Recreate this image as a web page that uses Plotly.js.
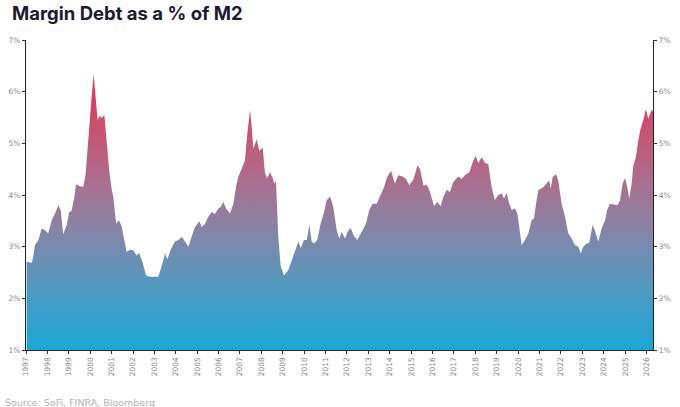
<!DOCTYPE html>
<html>
<head>
<meta charset="utf-8">
<script src="https://cdn.plot.ly/plotly-3.0.1.min.js"></script>
<style>
  html, body { margin: 0; padding: 0; background: #ffffff; }
  #chart { width: 680px; height: 407px; }
</style>
</head>
<body>
<div id="chart"></div>
<script>
// Decimal year of each reading
const years = [
  1997.03, 1997.27, 1997.34, 1997.42, 1997.58, 1997.73, 1997.89, 1998.04, 1998.20, 1998.36,
  1998.51, 1998.62, 1998.74, 1998.90, 1999.02, 1999.13, 1999.26, 1999.34, 1999.52, 1999.68,
  1999.79, 1999.91, 2000.04, 2000.16, 2000.27, 2000.35, 2000.43, 2000.54, 2000.66, 2000.77,
  2000.89, 2001.00, 2001.08, 2001.21, 2001.35, 2001.47, 2001.58, 2001.70, 2001.86, 2002.01,
  2002.17, 2002.29, 2002.45, 2002.61, 2002.79, 2003.18, 2003.34, 2003.50, 2003.60, 2003.76,
  2003.96, 2004.12, 2004.28, 2004.43, 2004.59, 2004.74, 2004.90, 2005.10, 2005.21, 2005.36,
  2005.52, 2005.68, 2005.83, 2005.99, 2006.10, 2006.22, 2006.35, 2006.53, 2006.69, 2006.81,
  2006.92, 2007.08, 2007.23, 2007.34, 2007.47, 2007.55, 2007.62, 2007.78, 2007.90, 2008.06,
  2008.17, 2008.28, 2008.40, 2008.53, 2008.60, 2008.68, 2008.79, 2008.90, 2009.06, 2009.26,
  2009.49, 2009.73, 2009.84, 2009.99, 2010.12, 2010.24, 2010.35, 2010.47, 2010.61, 2010.77,
  2010.93, 2011.05, 2011.21, 2011.36, 2011.52, 2011.64, 2011.75, 2011.91, 2012.03, 2012.17,
  2012.33, 2012.48, 2012.69, 2012.89, 2013.04, 2013.20, 2013.39, 2013.54, 2013.73, 2013.88,
  2014.06, 2014.24, 2014.40, 2014.60, 2014.76, 2014.91, 2015.10, 2015.29, 2015.41, 2015.57,
  2015.75, 2015.88, 2016.07, 2016.22, 2016.38, 2016.50, 2016.66, 2016.81, 2016.97, 2017.20,
  2017.36, 2017.51, 2017.72, 2017.87, 2018.01, 2018.14, 2018.29, 2018.45, 2018.60, 2018.76,
  2018.91, 2019.07, 2019.23, 2019.34, 2019.46, 2019.58, 2019.70, 2019.85, 2019.96, 2020.05,
  2020.16, 2020.32, 2020.47, 2020.63, 2020.74, 2020.86, 2020.94, 2021.17, 2021.33, 2021.45,
  2021.52, 2021.61, 2021.77, 2021.87, 2022.03, 2022.19, 2022.34, 2022.50, 2022.65, 2022.81,
  2022.92, 2023.04, 2023.20, 2023.32, 2023.48, 2023.58, 2023.74, 2023.90, 2024.06, 2024.16,
  2024.29, 2024.45, 2024.64, 2024.76, 2024.88, 2024.99, 2025.10, 2025.19, 2025.30, 2025.38,
  2025.50, 2025.61, 2025.72, 2025.84, 2025.97, 2026.08, 2026.16, 2026.24, 2026.30
];

// Margin debt as % of M2
const marginPct = [
  2.71, 2.69, 2.81, 3.03, 3.13, 3.35, 3.32, 3.26, 3.51, 3.64,
  3.80, 3.71, 3.24, 3.42, 3.67, 3.69, 3.96, 4.21, 4.17, 4.16,
  4.41, 5.12, 5.76, 6.33, 5.76, 5.44, 5.53, 5.49, 5.55, 4.99,
  4.47, 4.12, 3.96, 3.45, 3.51, 3.39, 3.13, 2.90, 2.94, 2.93,
  2.83, 2.88, 2.69, 2.44, 2.42, 2.42, 2.62, 2.87, 2.75, 2.94,
  3.10, 3.13, 3.19, 3.10, 3.00, 3.19, 3.38, 3.49, 3.38, 3.44,
  3.58, 3.67, 3.63, 3.74, 3.77, 3.87, 3.74, 3.64, 3.83, 4.15,
  4.35, 4.51, 4.67, 5.18, 5.64, 5.31, 4.89, 5.08, 4.85, 4.92,
  4.41, 4.33, 4.44, 4.33, 4.22, 4.27, 3.19, 2.62, 2.44, 2.55,
  2.81, 3.10, 2.97, 3.13, 3.13, 3.42, 3.10, 3.06, 3.13, 3.45,
  3.67, 3.90, 3.97, 3.77, 3.32, 3.16, 3.29, 3.16, 3.29, 3.36,
  3.20, 3.13, 3.29, 3.45, 3.71, 3.83, 3.83, 3.96, 4.15, 4.35,
  4.47, 4.22, 4.38, 4.36, 4.31, 4.19, 4.30, 4.57, 4.51, 4.19,
  4.19, 4.06, 3.78, 3.87, 3.78, 3.96, 4.10, 4.06, 4.25, 4.36,
  4.31, 4.38, 4.44, 4.63, 4.76, 4.62, 4.73, 4.62, 4.60, 4.15,
  3.90, 4.00, 4.03, 3.93, 4.04, 3.83, 3.71, 3.74, 3.64, 3.38,
  3.03, 3.13, 3.25, 3.51, 3.55, 3.90, 4.09, 4.15, 4.22, 4.28,
  4.12, 4.35, 4.40, 4.28, 3.83, 3.58, 3.26, 3.16, 3.03, 3.00,
  2.87, 3.00, 3.06, 3.07, 3.42, 3.32, 3.10, 3.35, 3.51, 3.71,
  3.83, 3.82, 3.80, 3.90, 4.22, 4.33, 4.15, 3.93, 4.22, 4.57,
  4.73, 5.05, 5.28, 5.44, 5.66, 5.47, 5.55, 5.66, 5.60
];

const yearTicks = [];
for (let y = 1997; y <= 2026; y++) yearTicks.push(y);
const yearLabels = yearTicks.map(String);

const pctTicks = [1, 2, 3, 4, 5, 6, 7];
const pctLabels = ['1%', '2%', '3%', '4%', '5%', '6%', '7%'];

const tickFont = { family: 'DejaVu Sans, sans-serif', size: 7.5, color: '#8a8a8a' };

const traces = [
  {
    type: 'scatter',
    mode: 'lines',
    x: years,
    y: marginPct,
    fill: 'tozeroy',
    line: { width: 0, color: 'rgba(0,0,0,0)' },
    fillgradient: {
      type: 'vertical',
      start: 1,
      stop: 6.4,
      colorscale: [
        [0, '#1aa8d6'],
        [0.2, '#4a9bc4'],
        [0.4, '#7f88ab'],
        [0.6, '#aa6f8f'],
        [0.8, '#cb5070'],
        [1, '#e2304c']
      ]
    },
    hoverinfo: 'x+y',
    showlegend: false
  },
  {
    type: 'scatter',
    mode: 'lines',
    x: [years[0]],
    y: [marginPct[0]],
    yaxis: 'y2',
    line: { width: 0, color: 'rgba(0,0,0,0)' },
    hoverinfo: 'skip',
    showlegend: false
  }
];

const layout = {
  width: 680,
  height: 407,
  margin: { l: 26, r: 27, t: 40, b: 57 },
  paper_bgcolor: '#ffffff',
  plot_bgcolor: '#ffffff',
  showlegend: false,
  title: {
    text: 'Margin Debt as a % of M2',
    font: { family: 'Inter, Lato, sans-serif', size: 18.5, color: '#1c1a33', weight: 700 },
    xref: 'container',
    yref: 'container',
    x: 12 / 680,
    xanchor: 'left',
    y: 1 - 14 / 407,
    yanchor: 'middle'
  },
  xaxis: {
    range: [1997, 2026.3],
    tickmode: 'array',
    tickvals: yearTicks,
    ticktext: yearLabels,
    tickangle: -90,
    tickfont: tickFont,
    ticks: 'outside',
    ticklen: 3,
    tickwidth: 1,
    tickcolor: '#333333',
    showline: true,
    linecolor: '#222222',
    linewidth: 1.2,
    showgrid: false,
    zeroline: false,
    fixedrange: true
  },
  yaxis: {
    range: [1, 7],
    tickmode: 'array',
    tickvals: pctTicks,
    ticktext: pctLabels,
    tickfont: tickFont,
    ticks: 'outside',
    ticklen: 3,
    tickwidth: 1,
    tickcolor: '#333333',
    showline: true,
    linecolor: '#222222',
    linewidth: 1.2,
    showgrid: false,
    zeroline: false,
    fixedrange: true
  },
  yaxis2: {
    overlaying: 'y',
    side: 'right',
    anchor: 'x',
    range: [1, 7],
    tickmode: 'array',
    tickvals: pctTicks,
    ticktext: pctLabels,
    tickfont: tickFont,
    ticks: 'outside',
    ticklen: 3,
    tickwidth: 1,
    tickcolor: '#333333',
    showline: true,
    linecolor: '#222222',
    linewidth: 1.2,
    showgrid: false,
    zeroline: false,
    fixedrange: true
  },
  annotations: [
    {
      text: 'Source: SoFi, FINRA, Bloomberg',
      xref: 'paper',
      yref: 'paper',
      x: -23 / 627,
      xanchor: 'left',
      y: -(402 - 350) / 310,
      yanchor: 'middle',
      showarrow: false,
      font: { family: 'DejaVu Sans, sans-serif', size: 9.5, color: '#b3b3b3' }
    }
  ]
};

Plotly.newPlot('chart', traces, layout, { displayModeBar: false, staticPlot: true });
</script>
</body>
</html>
